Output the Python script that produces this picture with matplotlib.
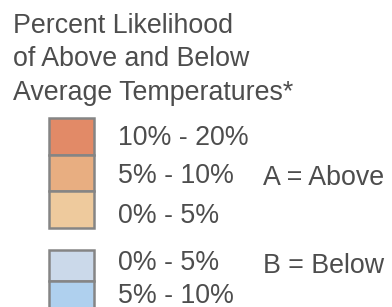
import matplotlib.pyplot as plt
from matplotlib.patches import Rectangle

plt.rcParams["font.family"] = ["Liberation Sans", "DejaVu Sans"]

title_lines = ["Percent Likelihood", "of Above and Below", "Average Temperatures*"]
above_labels = ["10% - 20%", "5% - 10%", "0% - 5%"]
above_colors = ["#E28A67", "#E8AE81", "#EECA9D"]
below_labels = ["0% - 5%", "5% - 10%"]
below_colors = ["#CBD9EA", "#AFD0EE"]
key_labels = ["A = Above", "B = Below"]

W, H = 392, 307
fig = plt.figure(figsize=(W / 100, H / 100), dpi=100)
ax = fig.add_axes([0, 0, 1, 1])
ax.set_xlim(0, W)
ax.set_ylim(H, 0)
ax.axis("off")

txt = "#4d4d4d"
edge = "#858585"
fs = 19.3

for i, line in enumerate(title_lines):
    ax.text(13, 33 + i * 33.5, line, fontsize=fs, color=txt, va="baseline", ha="left")

# above block
box_x, box_w = 49, 45
y0, step = 118, 36.7
label_base_a = [145, 183, 223]
for i, (lab, col) in enumerate(zip(above_labels, above_colors)):
    y = y0 + i * step
    ax.add_patch(Rectangle((box_x, y), box_w, step, facecolor=col, edgecolor=edge, lw=1.8))
    ax.text(118, label_base_a[i], lab, fontsize=fs, color=txt, va="baseline", ha="left")

# below block
y0b, stepb = 250, 30.5
label_base_b = [270, 303]
for i, (lab, col) in enumerate(zip(below_labels, below_colors)):
    y = y0b + i * stepb
    ax.add_patch(Rectangle((box_x, y), box_w, stepb, facecolor=col, edgecolor=edge, lw=1.8))
    ax.text(118, label_base_b[i], lab, fontsize=fs, color=txt, va="baseline", ha="left")

ax.text(263, 185, key_labels[0], fontsize=fs, color=txt, va="baseline", ha="left")
ax.text(263, 273, key_labels[1], fontsize=fs, color=txt, va="baseline", ha="left")

fig.savefig("out.png", dpi=100)
